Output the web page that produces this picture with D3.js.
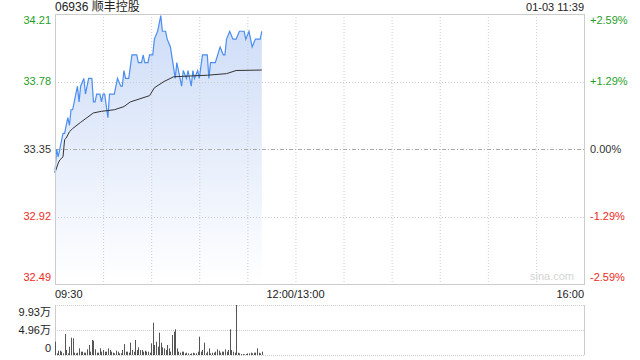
<!DOCTYPE html>
<html>
<head>
<meta charset="utf-8">
<title>06936 顺丰控股</title>
<style>
  body { margin: 0; background: #fff; }
  text { font-family: "Liberation Sans", Arial, "Noto Sans CJK SC", sans-serif; }
</style>
</head>
<body>
<script src="https://cdnjs.cloudflare.com/ajax/libs/d3/7.9.0/d3.min.js"></script>
<script>
const title = "06936 顺丰控股";
const stamp = "01-03 11:39";
const prevClose = 33.35;
const priceTicks = [34.21, 33.78, 33.35, 32.92, 32.49];
const pctTicks = ["+2.59%", "+1.29%", "0.00%", "-1.29%", "-2.59%"];
const volTicks = [9.93, 4.96, 0];
const volLabels = ["9.93万", "4.96万", "0"];
const timeLabels = ["09:30", "12:00/13:00", "16:00"];

// price line key points (minute since 09:30, price)
const priceMin = [0,1,2,3,5,6,7,8,9,10,11,14,15,16,18,19,20,21,23,24,25,26,28,29,30,31,33,34,36,37,38,39,41,42,43,44,46,48,51,52,54,55,56,58,59,61,62,64,66,67,69,70,72,75,76,78,79,80,82,83,85,86,87,89,90,92,95,96,97,100,103,105,106,107,109,111,113,115,118,119,121,122,123,125,128,129];
const priceVal = [33.20,33.35,33.30,33.35,33.45,33.45,33.50,33.55,33.50,33.60,33.60,33.75,33.65,33.75,33.80,33.70,33.75,33.80,33.80,33.65,33.65,33.70,33.70,33.65,33.70,33.70,33.55,33.70,33.70,33.70,33.75,33.80,33.75,33.75,33.85,33.80,33.80,33.95,33.95,33.90,33.90,33.95,33.90,33.90,33.95,33.95,34.05,34.10,34.20,34.10,34.10,34.05,34.00,33.80,33.90,33.80,33.75,33.85,33.80,33.85,33.75,33.85,33.80,33.85,33.80,33.95,33.95,33.80,33.90,33.90,34.00,33.95,33.95,34.05,34.10,34.05,34.05,34.10,34.10,34.05,34.10,34.05,34.00,34.05,34.05,34.10];

// average price line
const avgMin = [0,2,3,5,6,7,9,11,16,20,24,29,37,43,47,53,59,62,68,74,84,95,107,113,129];
const avgVal = [33.20,33.26,33.28,33.30,33.41,33.42,33.46,33.48,33.52,33.55,33.58,33.59,33.60,33.62,33.65,33.67,33.69,33.74,33.78,33.81,33.815,33.82,33.83,33.85,33.853];

// volume per minute, 万股
const volume = [2.65,0.33,0.86,0.86,0.66,0.33,4.17,0.99,0.33,1.66,3.44,3.31,0.46,0.33,0.46,1.32,0.66,0.66,0.46,0.46,
  1.13,1.99,0.66,2.98,2.85,1.13,0.46,0.46,1.32,0.66,0.99,0.66,0.66,1.32,0.99,0.66,0.46,0.33,0.86,0.66,
  0.33,0.33,0.99,2.18,0.66,0.66,0.46,2.45,0.99,0.66,2.98,0.99,1.52,0.99,0.99,0.66,0.86,0.66,0.66,0.46,
  2.32,6.42,1.99,2.65,1.66,4.44,2.45,1.52,1.32,0.99,1.99,1.32,0.66,3.97,4.63,5.10,1.32,0.66,0.46,0.66,
  0.66,0.33,0.46,0.33,0.2,0.33,0.46,0.33,0.33,0.66,3.64,0.66,0.99,2.45,0.33,0.66,1.32,0.33,0.46,0.46,
  0.66,1.13,0.86,0.46,0.66,0.66,1.13,0.66,0.99,5.10,0.99,0.66,0.46,9.93,0.46,0.33,0.2,0.2,0.13,0.2,
  0.33,0.33,0.46,0.33,0.46,0.46,1.32,0.46,0.33,0.66];

const W = 640, H = 360;
const left = 55, right = 584;
const pTop = 14, pBottom = 284;
const vTop = 305, vBottom = 355;
const green = "#1f9f1f", red = "#ee2a24", grey = "#cccccc";

const svg = d3.select("body").append("svg").attr("width", W).attr("height", H);

const x = d3.scaleLinear().domain([0, 330]).range([left, right]);
const y = d3.scaleLinear().domain([32.49, 34.21]).range([pBottom, pTop]);
const yv = d3.scaleLinear().domain([0, 9.93]).range([vBottom, vTop]);

// gradient fill
const grad = svg.append("defs").append("linearGradient")
  .attr("id", "fill").attr("x1", 0).attr("y1", 0).attr("x2", 0).attr("y2", 1);
grad.append("stop").attr("offset", "0%").attr("stop-color", "#cddcf7");
grad.append("stop").attr("offset", "100%").attr("stop-color", "#ffffff");

// area first, grid drawn over it
const pts = priceMin.map((m, i) => [m, priceVal[i]]);
svg.append("path").datum(pts)
  .attr("d", d3.area().x(d => x(d[0])).y0(pBottom).y1(d => y(d[1])))
  .attr("fill", "url(#fill)");

// grid verticals, every 30 min
const gx = d3.range(30, 330, 30);
svg.append("g").selectAll("line").data(gx).join("line")
  .attr("x1", d => x(d) + 0.5).attr("x2", d => x(d) + 0.5)
  .attr("y1", pTop).attr("y2", pBottom)
  .attr("stroke", grey).attr("stroke-dasharray", "1,2");

// grid horizontals
svg.append("g").selectAll("line").data([priceTicks[1], priceTicks[3]]).join("line")
  .attr("x1", left).attr("x2", right)
  .attr("y1", d => Math.round(y(d)) + 0.5).attr("y2", d => Math.round(y(d)) + 0.5)
  .attr("stroke", grey).attr("stroke-dasharray", "1,2");

svg.append("line")
  .attr("x1", left).attr("x2", right)
  .attr("y1", Math.round(y(prevClose)) + 0.5).attr("y2", Math.round(y(prevClose)) + 0.5)
  .attr("stroke", "#aaaaaa").attr("stroke-dasharray", "4,2,1,2");

svg.append("path").datum(pts)
  .attr("d", d3.line().x(d => x(d[0])).y(d => y(d[1])))
  .attr("fill", "none").attr("stroke", "#4b8ef0").attr("stroke-width", 1.2);

svg.append("path").datum(avgMin.map((m, i) => [m, avgVal[i]]))
  .attr("d", d3.line().x(d => x(d[0])).y(d => y(d[1])))
  .attr("fill", "none").attr("stroke", "#333333").attr("stroke-width", 1);

// price frame
svg.append("rect")
  .attr("x", left + 0.5).attr("y", pTop + 0.5)
  .attr("width", right - left).attr("height", pBottom - pTop)
  .attr("fill", "none").attr("stroke", grey);

// watermark
svg.append("text").attr("x", right - 10).attr("y", pBottom - 4)
  .attr("text-anchor", "end").attr("font-size", 11).attr("fill", "#d4d4d4").text("sina.com");

// price labels
const lblCol = (i) => i < 2 ? green : (i === 2 ? "#333" : red);
const lblY = (v, i) => i === 0 ? y(v) + 6 : (i === 4 ? y(v) - 7 : y(v));
svg.append("g").selectAll("text").data(priceTicks).join("text")
  .attr("x", 51).attr("y", (d, i) => lblY(d, i)).attr("dy", "0.35em")
  .attr("text-anchor", "end").attr("font-size", 11).attr("fill", (d, i) => lblCol(i))
  .text(d => d.toFixed(2));

svg.append("g").selectAll("text").data(pctTicks).join("text")
  .attr("x", 590).attr("y", (d, i) => lblY(priceTicks[i], i)).attr("dy", "0.35em")
  .attr("font-size", 11).attr("fill", (d, i) => lblCol(i))
  .text(d => d);

// title and time
svg.append("text").attr("x", left).attr("y", 7).attr("dy", "0.35em")
  .attr("font-size", 12).attr("fill", "#222").text(title);
svg.append("text").attr("x", right).attr("y", 7).attr("dy", "0.35em")
  .attr("text-anchor", "end").attr("font-size", 11).attr("fill", "#222").text(stamp);

// time axis labels
const tPos = [0, 150, 330];
const tAnchor = ["start", "middle", "end"];
svg.append("g").selectAll("text").data(timeLabels).join("text")
  .attr("x", (d, i) => x(tPos[i])).attr("y", 294).attr("dy", "0.35em")
  .attr("text-anchor", (d, i) => tAnchor[i]).attr("font-size", 11).attr("fill", "#222")
  .text(d => d);

// volume panel grid
svg.append("g").selectAll("line").data(volTicks).join("line")
  .attr("x1", left).attr("x2", right)
  .attr("y1", d => Math.round(yv(d)) + 0.5).attr("y2", d => Math.round(yv(d)) + 0.5)
  .attr("stroke", grey).attr("stroke-dasharray", "1,1");
svg.append("line").attr("x1", left + 0.5).attr("x2", left + 0.5)
  .attr("y1", vTop).attr("y2", vBottom).attr("stroke", grey);
svg.append("line").attr("x1", right + 0.5).attr("x2", right + 0.5)
  .attr("y1", vTop).attr("y2", vBottom).attr("stroke", grey);

// volume bars
svg.append("g").selectAll("rect").data(volume).join("rect")
  .attr("x", (d, i) => Math.round(x(i)))
  .attr("y", d => yv(d))
  .attr("width", 1)
  .attr("height", d => vBottom - yv(d))
  .attr("fill", "#555555");

const vY = [yv(9.93) + 7, yv(4.96), yv(0) - 7];
svg.append("g").selectAll("text").data(volLabels).join("text")
  .attr("x", 51).attr("y", (d, i) => vY[i]).attr("dy", "0.35em")
  .attr("text-anchor", "end").attr("font-size", 11).attr("fill", "#222")
  .text(d => d);
</script>
</body>
</html>
